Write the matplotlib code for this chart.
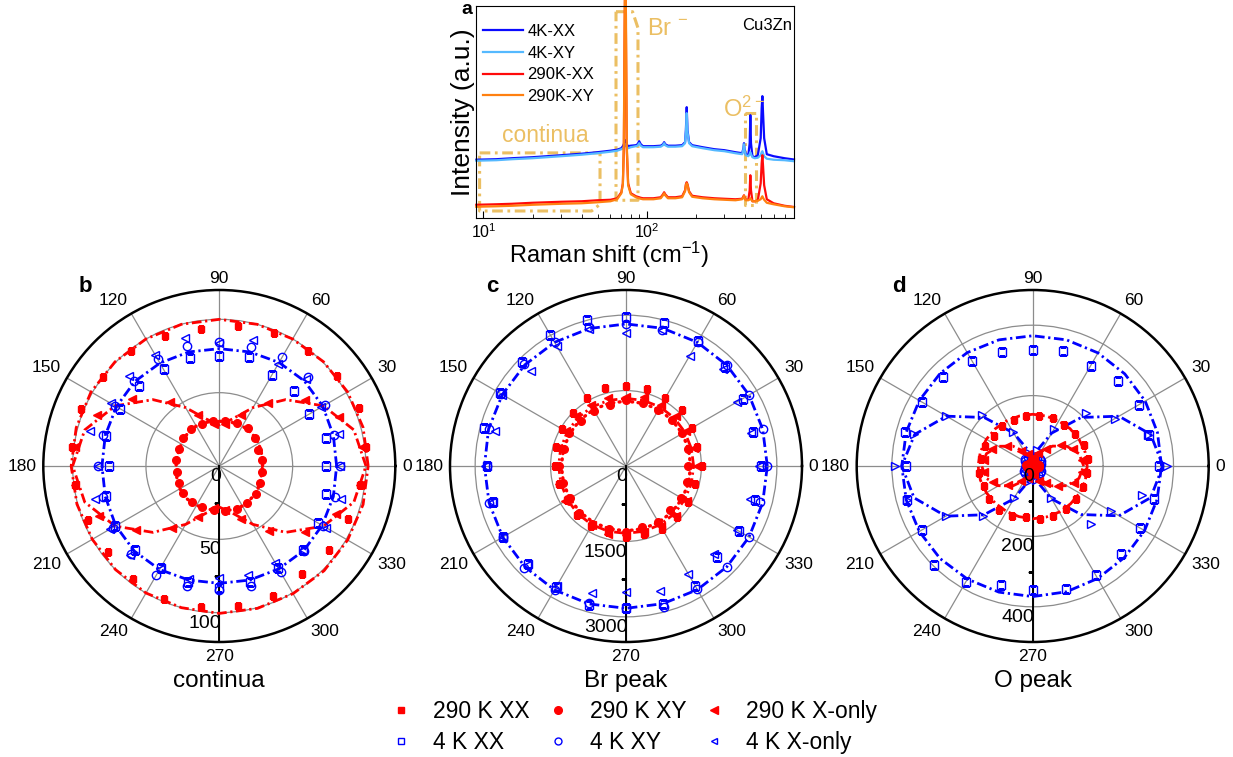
import numpy as np
import matplotlib
matplotlib.use("Agg")
import matplotlib.pyplot as plt
from matplotlib.lines import Line2D

plt.rcParams['font.family'] = ['Liberation Sans', 'DejaVu Sans']
plt.rcParams['mathtext.fontset'] = 'custom'
plt.rcParams['mathtext.rm'] = 'Liberation Sans'
plt.rcParams['mathtext.default'] = 'regular'

# ---------------- panel a: Raman spectra (intensity in arbitrary units) ----------------
raman_shift = [9.04, 12, 15, 20, 30, 40, 50, 60, 66, 70, 71.5, 72.5, 73.3, 74, 74.7, 75.5, 77,
               80, 86, 88, 90, 92, 95, 110, 122, 126, 128, 130, 135, 150, 165, 172, 174, 176,
               178, 182, 190, 220, 260, 300, 350, 385, 392, 395, 398, 405, 420, 428, 432, 436,
               445, 460, 480, 500, 507, 512, 517, 525, 545, 600, 700, 800]
int_4k_xx = [58.5, 59, 60, 61, 63, 64.5, 66, 67.5, 68.5, 70, 72, 74, 77, 78, 77, 74, 72,
             72.5, 73, 74, 77, 74, 72, 72, 72.5, 74, 76, 74, 72.5, 72.5, 73, 76, 88, 111,
             88, 76, 73, 71, 69, 68, 66, 65, 70, 75, 69, 64, 63, 75, 103, 75,
             62, 61, 63, 80, 110, 122, 105, 80, 64, 62, 60, 58.7]
int_4k_xy = [57.5, 58, 59, 60, 62, 63.5, 65, 66.5, 67.5, 69, 70, 71, 73, 74, 73, 71, 70,
             71, 72, 72.5, 75, 72.5, 71, 71, 71.5, 73, 75, 73, 71.5, 71.5, 72, 75, 86, 105,
             86, 75, 72, 70, 68, 67, 65, 64, 69, 74, 68, 63, 62, 64, 66, 64,
             61, 60, 60.5, 63, 66, 67, 65, 62, 59.5, 58.5, 58, 57]
int_290_xx = [13.5, 14, 14.5, 15.5, 16.5, 17, 18, 18.5, 20, 26, 35, 70, 180, 260, 180, 70, 35,
              25, 22, 21.5, 21, 20.5, 20, 20, 21, 24, 26, 24, 21, 21, 22, 28, 34, 36,
              34, 27, 22.5, 21, 20, 19.5, 19, 19.5, 22, 23, 21, 18.5, 18.5, 28, 43, 28,
              17, 17, 18, 35, 55, 63, 52, 33, 19, 15, 12.5, 11.3]
int_290_xy = [11.5, 12, 12.5, 13.5, 14.5, 15, 16, 17, 19, 25, 34, 75, 200, 260, 200, 75, 33,
              24, 21, 20.5, 20, 19.5, 19, 19, 20, 23, 25, 23, 20, 20, 21, 27, 33, 35,
              33, 26, 21.5, 20, 19, 18.5, 18, 19, 21, 22.5, 20.5, 18, 18, 19, 20, 19,
              17, 17, 17.5, 19, 21, 22, 20.5, 18.5, 15.5, 14, 12, 11]
spec_labels = ['4K-XX', '4K-XY', '290K-XX', '290K-XY']

# ---------------- panels b-d: polarisation dependence ----------------
ang_on = [0, 15, 30, 45, 60, 75, 90, 105, 120, 135, 150, 165,
          180, 195, 210, 225, 240, 255, 270, 285, 300, 315, 330, 345]
ang_off = [7.5, 22.5, 37.5, 52.5, 67.5, 82.5, 97.5, 112.5, 127.5, 142.5, 157.5, 172.5,
           187.5, 202.5, 217.5, 232.5, 247.5, 262.5, 277.5, 292.5, 307.5, 322.5, 337.5, 352.5]

# (b) continua
b_290_xx = [100.7, 103, 101, 99, 98, 96, 94, 96, 99, 100, 102, 101,
            99, 97, 96, 97, 98, 97, 96, 96, 93, 94, 95, 97]
b_290_xy = [29.5, 28.7, 31.0, 32.7, 31.5, 31.0, 30.7, 31.0, 31.5, 31.0, 30.0, 29.5,
            29.3, 30.0, 30.8, 31.0, 30.6, 30.2, 30.8, 31.6, 31.5, 31.3, 30.2, 29.3]
b_290_xo = [98, 88, 74, 54, 38, 29, 29, 38, 55, 75, 90, 99,
            99, 89, 72, 53, 38, 29, 30, 39, 56, 74, 86, 97]
b_4k_xx = [73, 75, 71, 72, 72, 77, 75, 76, 76, 77, 78, 80,
           75, 80, 82, 81, 80, 82, 83, 82, 80, 81, 78, 75]
b_4k_xy = [82, 81, 83, 86, 85.7, 84, 84.8, 85, 84, 82, 82, 82,
           83, 82, 84, 85, 86, 85, 84.6, 84.5, 83.7, 82, 82, 81.6]
b_4k_xo = [82, 84.5, 80, 83.6, 80, 88.6, 84, 90, 87.5, 86.8, 85.5, 91,
           82.5, 88, 86, 86, 81, 80, 76.6, 76.7, 76.5, 81, 84, 86]
b_fit_290_xx = [101.5, 101.5, 101, 100.5, 100, 100, 100, 100, 100, 100.5, 101, 101,
                101, 100.5, 100, 100, 100, 100, 100.5, 100.5, 100.5, 101, 101, 101.5]
b_fit_290_xy = [29.5, 30, 31, 31.5, 31.5, 31, 30.5, 31, 31.5, 31, 30, 29.5,
                29.5, 30, 31, 31.5, 31, 30.5, 30.5, 31, 31.5, 31, 30.5, 29.5]
b_fit_290_xo = [100, 95, 82, 64, 46, 33, 28, 33, 46, 64, 82, 95,
                100, 95, 82, 64, 46, 33, 28, 33, 46, 64, 82, 95]
b_fit_4k = [80, 80.5, 81.5, 82, 81.5, 80.5, 80, 80.5, 81, 81.5, 81, 80.5,
            80, 80.5, 81.5, 82, 81.5, 80.5, 80, 80.5, 81, 81.5, 81, 80.5]

# (c) Br peak
c_290_xx = [1505, 1457, 1506, 1567, 1553, 1577, 1591, 1600, 1566, 1500, 1466, 1436,
            1412, 1370, 1360, 1380, 1386, 1352, 1405, 1400, 1439, 1425, 1430, 1414]
c_290_xy = [1240, 1280, 1297, 1290, 1275, 1290, 1313, 1260, 1260, 1270, 1319, 1286,
            1326, 1300, 1290, 1310, 1341, 1303, 1320, 1252, 1275, 1238, 1274, 1246]
c_290_xo = [1420, 1390, 1380, 1400, 1390, 1420, 1380, 1410, 1400, 1420, 1380, 1400,
            1390, 1380, 1400, 1360, 1350, 1390, 1370, 1360, 1380, 1410, 1400, 1380]
c_4k_xx = [2679, 2610, 2683, 2775, 2880, 2937, 2970, 3008, 3012, 2935, 2900, 2922,
           2772, 2742, 2816, 2756, 2785, 2865, 2818, 2846, 2756, 2573, 2600, 2650]
c_4k_xy = [2798, 2815, 2813, 2846, 2845, 2802, 2825, 2867, 2840, 2856, 2880, 2823,
           2772, 2815, 2816, 2866, 2840, 2828, 2818, 2895, 2820, 2842, 2826, 2767]
c_4k_xo = [2652, 2573, 2546, 2720, 2532, 2800, 2652, 2820, 2762, 2678, 2838, 2693,
           2800, 2760, 2830, 2780, 2745, 2610, 2500, 2580, 2480, 2480, 2542, 2553]
c_fit_290_xx = [1345, 1345, 1350, 1355, 1355, 1350, 1345, 1350, 1355, 1355, 1350, 1345,
                1340, 1340, 1345, 1350, 1350, 1345, 1340, 1345, 1350, 1350, 1345, 1345]
c_fit_290_xy = [1285, 1288, 1292, 1295, 1295, 1292, 1290, 1292, 1295, 1295, 1292, 1288,
                1285, 1288, 1292, 1295, 1295, 1292, 1290, 1292, 1295, 1295, 1292, 1288]
c_fit_4k = [2810, 2815, 2825, 2835, 2840, 2835, 2825, 2830, 2840, 2845, 2840, 2830,
            2815, 2820, 2830, 2840, 2845, 2840, 2830, 2835, 2840, 2835, 2825, 2815]

# (d) O peak
d_290_xx = [159, 158, 150, 148, 147, 143, 142, 140, 142, 140, 146, 148,
            153, 151, 155, 156, 154, 146, 153, 154, 154, 154, 156, 156]
d_290_xy = [18, 14, 10, 8, 12, 16, 15, 11, 8, 10, 14, 18,
            17, 13, 9, 8, 12, 15, 16, 12, 9, 10, 14, 17]
d_290_xo = [140, 125, 100, 62, 40, 25, 22, 38, 55, 92, 126, 140,
            140, 122, 89, 55, 38, 22, 25, 45, 62, 92, 128, 140]
d_4k_xx = [360, 341.6, 348, 341, 328.6, 338, 330, 336, 345, 359, 362, 375,
           360, 369, 364, 397, 380, 350, 352, 362, 358, 355, 352.6, 357]
d_4k_xy = [20, 25, 28, 30, 26, 22, 18, 24, 28, 30, 26, 20,
           18, 22, 27, 30, 27, 22, 20, 24, 28, 30, 26, 21]
d_4k_xo = [381, 340, 269, 213, 120, 48, 25, 38, 113, 205, 285, 348,
           391, 369, 285, 201, 104, 45, 30, 40, 106, 233, 258, 321]
d_fit_290_xx = [155, 154, 152, 150, 148, 147, 147, 147, 148, 150, 152, 154,
                155, 154, 152, 150, 149, 149, 150, 150, 151, 152, 154, 155]
d_fit_290_xo = [145, 136, 112, 80, 47, 24, 15, 24, 47, 80, 112, 136,
                145, 136, 112, 80, 47, 24, 15, 24, 47, 80, 112, 136]
d_fit_4k_xx = [366, 367, 369, 370, 371, 371, 370, 371, 372, 372, 372, 372,
               372, 372, 372, 372, 371, 371, 371, 370, 369, 368, 367, 366]
d_fit_4k_xo = [370, 347, 283, 195, 108, 45, 20, 45, 108, 195, 283, 347,
               372, 349, 285, 196, 108, 45, 20, 45, 108, 195, 283, 347]

RED, BLUE = "#ff0000", "#0000ff"
GOLD = "#ebbf63"
W, H = 1233, 757
DASHDOT = (3.5, 1.3, 0.8, 1.3)


def px_box(left, top, w, h):
    return [left / W, 1 - (top + h) / H, w / W, h / H]


def closed(ang, r):
    return np.deg2rad(list(ang) + [ang[0]]), list(r) + [r[0]]


fig = plt.figure(figsize=(12.33, 7.57), dpi=100)

# ---- (a)
axa = fig.add_axes(px_box(476, 6, 318, 212.3))
for vals, col, lab in [(int_4k_xx, "#0a0aff", spec_labels[0]), (int_4k_xy, "#55b9ff", spec_labels[1]),
                       (int_290_xx, "#ff0a0a", spec_labels[2]), (int_290_xy, "#ff8010", spec_labels[3])]:
    axa.plot(raman_shift, vals, color=col, lw=1.6, label=lab, clip_on=False)
axa.set_xscale('log')
axa.set_xlim(9.0, 800)
axa.set_ylim(0, 212)
axa.set_yticks([])
axa.tick_params(axis='x', which='both', direction='in', labelsize=11.5, pad=3)
axa.tick_params(axis='x', which='major', length=5)
axa.tick_params(axis='x', which='minor', length=3)
axa.set_xlabel('Raman shift (cm$^{-1}$)', fontsize=17)
axa.xaxis.set_label_coords(0.417, -0.103)
axa.set_ylabel('Intensity (a.u.)', fontsize=19, labelpad=1)
axa.legend(loc='upper left', bbox_to_anchor=(0.022, 0.915), frameon=False, fontsize=12,
           handlelength=2.4, handletextpad=0.25, labelspacing=0.4, borderaxespad=0, borderpad=0)
# highlighted regions
box_kw = dict(color=GOLD, lw=2.2, dashes=(3.5, 1.5, 0.9, 1.5), clip_on=False, zorder=1)
axa.plot([9.47, 51.8, 51.8, 46, 9.47, 9.47], [65.3, 65.3, 14, 7.3, 7.3, 65.3], **box_kw)
axa.plot([64.9, 82, 88.5, 88.5, 64.9, 64.9], [206.3, 206.3, 190, 18, 18, 206.3], **box_kw)
axa.plot([399, 467, 467, 399, 399], [104.7, 104.7, 13, 13, 104.7], **box_kw)
axa.text(13.0, 83, 'continua', color=GOLD, fontsize=16.5, va='center', ha='left')
axa.text(100.9, 189, 'Br $^{-}$', color=GOLD, fontsize=17, va='center', ha='left')
axa.text(292, 109, 'O$^{2-}$', color=GOLD, fontsize=17, va='center', ha='left')
axa.text(0.995, 0.91, 'Cu3Zn', transform=axa.transAxes, ha='right', va='center', fontsize=12)
fig.text(466.7 / W, 1 - 9 / H, 'a', fontsize=14, fontweight='bold', ha='center', va='center')


def setup_polar(cx, rmax, rgrid, rminor, letter, title):
    ax = fig.add_axes(px_box(cx - 176, 466 - 176, 352, 352), projection='polar')
    ax.set_ylim(0, rmax)
    ax.set_xticks(np.deg2rad(np.arange(0, 360, 30)))
    ax.set_xticks(np.deg2rad(np.arange(15, 360, 30)), minor=True)
    ax.set_xticklabels([])
    ax.set_yticks(rgrid)
    ax.set_yticklabels([])
    ax.grid(True, color="#8c8c8c", lw=0.9)
    ax.tick_params(axis='x', which='major', direction='in', length=5, width=1, color='k')
    ax.tick_params(axis='x', which='minor', direction='in', length=4, width=1, color='k')
    ax.tick_params(axis='y', length=0)
    ax.spines['polar'].set_linewidth(1.8)
    ax.axvline(np.deg2rad(270), color='k', lw=1.4, zorder=2)
    th = np.deg2rad(270)
    ax.plot([th] * len(rminor), rminor, ls='none', marker=0, ms=3.5, mew=1, color='k', zorder=2)
    for a in range(0, 360, 30):
        t = np.deg2rad(a)
        c, s = np.cos(t), np.sin(t)
        ha = 'left' if c > 0.3 else ('right' if c < -0.3 else 'center')
        va = 'bottom' if s > 0.3 else ('top' if s < -0.3 else 'center')
        d = 3.0 if a == 90 else 4.8
        ax.annotate(str(a), xy=(t, rmax), xytext=(d * c, d * s), textcoords='offset points',
                    ha=ha, va=va, fontsize=12.5, annotation_clip=False)
    for v in [0] + list(rgrid):
        ax.annotate(f"{v:g}", xy=(th, v), xytext=(1, -1.5), textcoords='offset points',
                    ha='right', va='top', fontsize=14, annotation_clip=False, zorder=5)
    fig.text((cx - 134) / W, 1 - 286.7 / H, letter, fontsize=16, fontweight='bold',
             ha='center', va='center')
    fig.text(cx / W, 1 - 681 / H, title, fontsize=17.5, ha='center', va='center')
    return ax


def fit(ax, ang, r, color, dotted=False):
    t, rr = closed(ang, r)
    if dotted:
        ax.plot(t, rr, color=color, lw=2.4, dashes=(0.3, 1.6), dash_capstyle='round', zorder=3)
    else:
        ax.plot(t, rr, color=color, lw=2.0, dashes=DASHDOT, zorder=3)


def marks(ax, ang, r, kind, series):
    filled = series == '290'
    col = RED if filled else BLUE
    kw = dict(ls='none', marker=kind, color=col, zorder=4)
    if filled:
        kw.update(ms=5.5 if kind != 's' else 5, mec=col, mfc=col)
    else:
        kw.update(ms=6, mec=col, mfc='none', mew=1.0)
    ax.plot(np.deg2rad(ang), r, **kw)


# ---- (b)
axb = setup_polar(219.3, 120, [50, 100], [25, 75], 'b', 'continua')
fit(axb, ang_on, b_fit_4k, BLUE)
fit(axb, ang_on, b_fit_290_xx, RED)
fit(axb, ang_on, b_fit_290_xo, RED)
fit(axb, ang_on, b_fit_290_xy, RED, dotted=True)
marks(axb, ang_on, b_4k_xx, 's', '4')
marks(axb, ang_on, b_4k_xy, 'o', '4')
marks(axb, ang_on, b_4k_xo, '<', '4')
marks(axb, ang_off, b_290_xx, 's', '290')
marks(axb, ang_off, b_290_xy, 'o', '290')
marks(axb, ang_off, b_290_xo, '<', '290')
axb.set_ylim(0, 120)

# ---- (c)
axc = setup_polar(626, 3500, [1500, 3000], [750, 2250], 'c', 'Br peak')
fit(axc, ang_on, c_fit_4k, BLUE)
fit(axc, ang_on, c_fit_290_xx, RED)
fit(axc, ang_on, c_fit_290_xy, RED, dotted=True)
marks(axc, ang_on, c_4k_xx, 's', '4')
marks(axc, ang_on, c_4k_xy, 'o', '4')
marks(axc, ang_on, c_4k_xo, '<', '4')
marks(axc, ang_on, c_290_xx, 's', '290')
marks(axc, ang_on, c_290_xy, 'o', '290')
marks(axc, ang_on, c_290_xo, '<', '290')
axc.set_ylim(0, 3500)

# ---- (d)
axd = setup_polar(1032.7, 500, [200, 400], [100, 300], 'd', 'O peak')
fit(axd, ang_on, d_fit_4k_xx, BLUE)
fit(axd, ang_on, d_fit_4k_xo, BLUE)
fit(axd, ang_on, d_fit_290_xx, RED)
fit(axd, ang_on, d_fit_290_xo, RED)
marks(axd, ang_on, d_4k_xx, 's', '4')
marks(axd, ang_on, d_4k_xy, 'o', '4')
marks(axd, ang_on, d_4k_xo, '>', '4')
marks(axd, ang_off, d_290_xx, 's', '290')
marks(axd, ang_off, d_290_xy, 'o', '290')
marks(axd, ang_off, d_290_xo, '<', '290')
axd.set_ylim(0, 500)

# ---- shared legend
def key(marker, series):
    if series == '290':
        return Line2D([], [], ls='none', marker=marker, ms=5 if marker == 's' else 5.5,
                      color=RED, mfc=RED, mec=RED)
    return Line2D([], [], ls='none', marker=marker, ms=5, color=BLUE, mfc='none', mec=BLUE, mew=1.0)


handles = [key('s', '290'), key('s', '4'), key('o', '290'), key('o', '4'), key('<', '290'), key('<', '4')]
labels = ['290 K XX', '4 K XX', '290 K XY', '4 K XY', '290 K X-only', '4 K X-only']
fig.legend(handles, labels, ncol=3, loc='upper left', bbox_to_anchor=(389.5 / W, 1 - 700 / H),
           frameon=False, fontsize=16.5, handlelength=1.0, handletextpad=0.9, columnspacing=0.72,
           labelspacing=0.36, borderpad=0, borderaxespad=0)

fig.savefig("out.png", dpi=100)
